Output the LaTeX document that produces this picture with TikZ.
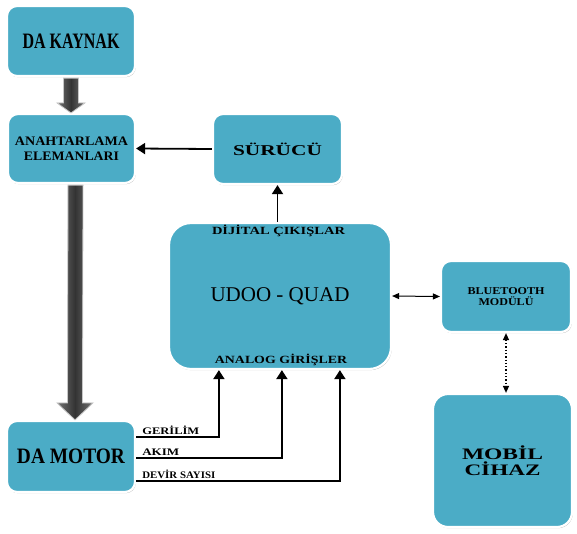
\documentclass[tikz,border=0pt]{standalone}
\usepackage{fontspec}
\setmainfont{Liberation Serif}
\usetikzlibrary{arrows.meta,shadows,calc}
\definecolor{boxc}{RGB}{75,172,198}
\newcommand\fitw[2]{\resizebox{#1}{\height}{#2}}
\begin{document}
\begin{tikzpicture}[x=1pt,y=-1pt,
 box/.style={fill=boxc, draw=white, line width=2.2pt, rounded corners=10pt, inner sep=0pt, align=center,
   drop shadow={shadow xshift=0.8pt,shadow yshift=-1.2pt,fill=black!50,opacity=.55}},
 lbl/.style={inner sep=0pt, font=\bfseries\fontsize{10}{11}\selectfont, anchor=base west},
 thinarrow/.style={line width=1.8pt, -{Triangle[length=9pt,width=11pt]}},
 bigarrow/.style={left color=black!55, right color=black!55, middle color=black!80, draw=gray!45, line width=0.8pt}
]
\useasboundingbox (0,0) rectangle (577,533);

\node[box, minimum width=128pt, minimum height=70pt, font=\bfseries\fontsize{22}{24}\selectfont] (kaynak) at (71,41) {\fitw{97pt}{DA KAYNAK}};
\node[box, minimum width=127pt, minimum height=69pt, font=\bfseries\fontsize{13}{15}\selectfont] (anahtar) at (71.5,148.5) {\fitw{113pt}{ANAHTARLAMA}\\\fitw{95pt}{ELEMANLARI}};
\node[box, minimum width=129pt, minimum height=70pt, font=\bfseries\fontsize{15}{17}\selectfont] (surucu) at (277.5,149) {\fitw{89pt}{SÜRÜCÜ}};
\node[box, minimum width=222pt, minimum height=146pt, rounded corners=22pt, font=\fontsize{21}{22}\selectfont] (udoo) at (280,296) {\fitw{139pt}{UDOO - QUAD}};
\node[box, minimum width=130pt, minimum height=71pt, font=\bfseries\fontsize{10.5}{11}\selectfont] (bt) at (506,296.5) {\fitw{77pt}{BLUETOOTH}\\\fitw{55pt}{MODÜLÜ}};
\node[box, minimum width=139pt, minimum height=133pt, rounded corners=15pt, font=\bfseries\fontsize{16}{15.5}\selectfont] (mobil) at (502.5,460.5) {\fitw{81pt}{MOBİL}\\\fitw{76pt}{CİHAZ}};
\node[box, minimum width=128pt, minimum height=71pt, font=\bfseries\fontsize{22}{24}\selectfont] (motor) at (71,456.5) {\fitw{108pt}{DA MOTOR}};

\node[inner sep=0pt, anchor=base, font=\bfseries\fontsize{11}{12}\selectfont] (dig) at ($(udoo.north)+(-1.5,13)$) {\fitw{133pt}{DİJİTAL ÇIKIŞLAR}};
\node[inner sep=0pt, anchor=base, font=\bfseries\fontsize{11}{12}\selectfont] (ana) at ($(udoo.south)+(1,-7)$) {\fitw{132pt}{ANALOG GİRİŞLER}};

% big arrows
\coordinate (at) at (kaynak.south |- anahtar.north);
\shade[bigarrow] ($(kaynak.south)+(-7.5,1)$) -- ($(kaynak.south)+(7.5,1)$) -- ($(at)+(7.5,-10)$) -- ($(at)+(14,-10)$) -- (at) -- ($(at)+(-14,-10)$) -- ($(at)+(-7.5,-10)$) -- cycle;
\coordinate (bt0) at ($(anahtar.south)+(4,1)$);
\coordinate (bh) at ($(motor.north)+(4,0)$);
\shade[bigarrow] ($(bt0)+(-7.5,0)$) -- ($(bt0)+(7.5,0)$) -- ($(bh)+(7.5,-17)$) -- ($(bh)+(18,-17)$) -- (bh) -- ($(bh)+(-18,-17)$) -- ($(bh)+(-7.5,-17)$) -- cycle;

% thin connectors
\draw[thinarrow] (surucu.west) -- (anahtar.east);
\draw[thinarrow] (surucu.south |- udoo.north) -- (surucu.south);
\draw[line width=1pt, {Triangle[length=7pt,width=6pt]}-{Triangle[length=7pt,width=6pt]}] (udoo.east) -- (bt.west);
\draw[line width=1.3pt, dotted, {Triangle[length=7pt,width=6pt]}-{Triangle[length=7pt,width=6pt]}] (bt.south) -- (bt.south |- mobil.north);

\coordinate (m1) at ($(motor.east)+(0,-19.5)$);
\coordinate (m2) at ($(motor.east)+(0,1.5)$);
\coordinate (m3) at ($(motor.east)+(0,24.5)$);
\draw[thinarrow] (m1) -| ($(udoo.south west)+(51,0)$);
\draw[thinarrow] (m2) -| ($(udoo.south west)+(114,0)$);
\draw[thinarrow] (m3) -| ($(udoo.south west)+(172,0)$);
\node[lbl] (l1) at ($(m1)+(6,-2.5)$) {\fitw{57pt}{GERİLİM}};
\node[lbl] (l2) at ($(m2)+(6,-2.5)$) {\fitw{37pt}{AKIM}};
\node[lbl] (l3) at ($(m3)+(6,-2.5)$) {\fitw{73pt}{DEVİR SAYISI}};
\end{tikzpicture}
\end{document}
